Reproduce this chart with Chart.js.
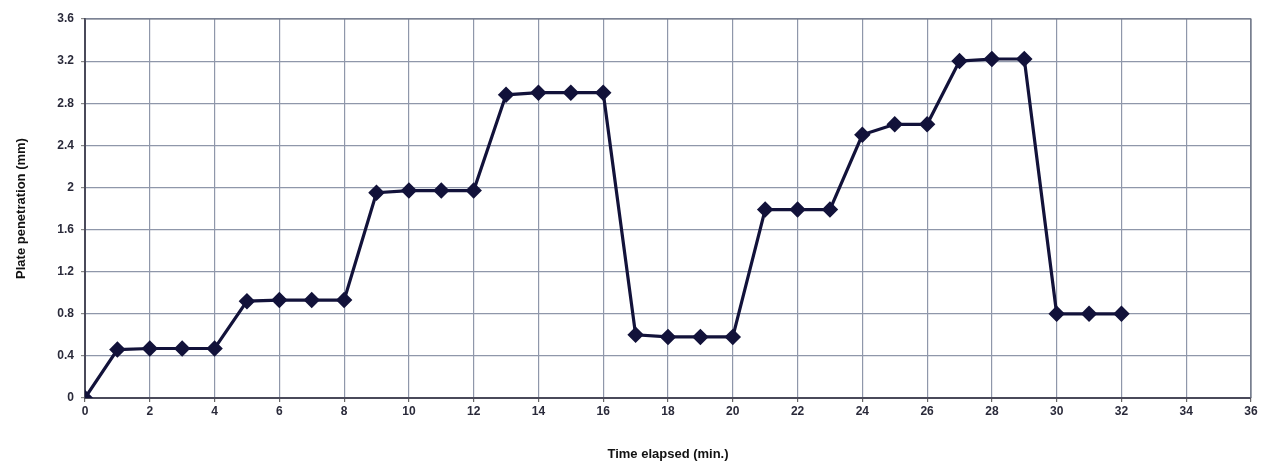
<!DOCTYPE html>
<html>
<head>
<meta charset="utf-8">
<script src="https://cdn.jsdelivr.net/npm/chart.js@4/dist/chart.umd.min.js"></script>
<style>
  html, body { margin: 0; padding: 0; background: #ffffff; }
  #wrap { width: 1268px; height: 471px; position: relative; }
</style>
</head>
<body>
<div id="wrap"><canvas id="c" width="1268" height="471"></canvas></div>
<script>
const timeMin = [0,1,2,3,4,5,6,7,8,9,10,11,12,13,14,15,16,17,18,19,20,21,22,23,24,25,26,27,28,29,30,31,32];
const penetration = [0,0.46,0.47,0.47,0.47,0.92,0.93,0.93,0.93,1.95,1.97,1.97,1.97,2.88,2.9,2.9,2.9,0.6,0.58,0.58,0.58,1.79,1.79,1.79,2.5,2.6,2.6,3.2,3.22,3.22,0.8,0.8,0.8];
const xTickLabels = ['0','2','4','6','8','10','12','14','16','18','20','22','24','26','28','30','32','34','36'];
const yTickLabels = ['0','0.4','0.8','1.2','1.6','2','2.4','2.8','3.2','3.6'];

const points = timeMin.map((t, i) => ({ x: t, y: penetration[i] }));
const tickFont = { family: 'Liberation Sans, Arial, sans-serif', size: 12, weight: 'bold' };
const titleFont = { family: 'Liberation Sans, Arial, sans-serif', size: 13, weight: 'bold' };
const gridColor = '#8f97aa';

new Chart(document.getElementById('c'), {
  type: 'line',
  data: {
    datasets: [{
      data: points,
      borderColor: '#12123a',
      backgroundColor: '#12123a',
      borderWidth: 3.2,
      pointStyle: 'rectRot',
      pointRadius: 6,
      pointHoverRadius: 6,
      pointBackgroundColor: '#12123a',
      pointBorderColor: '#12123a',
      tension: 0,
      fill: false
    }]
  },
  options: {
    responsive: false,
    animation: false,
    layout: { padding: { left: 6, top: 19, right: 17, bottom: 6 } },
    plugins: { legend: { display: false }, tooltip: { enabled: false } },
    scales: {
      x: {
        type: 'linear',
        min: 0, max: 36,
        afterFit: (s) => { s.height = 67; },
        ticks: {
          stepSize: 2,
          color: '#2a2a3a',
          font: tickFont,
          padding: 2,
          maxRotation: 0,
          callback: (v) => xTickLabels[Math.round(v / 2)]
        },
        grid: { color: gridColor, lineWidth: 1.2, tickLength: 4, tickColor: '#666' },
        border: { color: '#4a4a5a', width: 2 },
        title: { display: true, text: 'Time elapsed (min.)', color: '#111', font: titleFont, padding: { top: 4, bottom: 3 } }
      },
      y: {
        min: 0, max: 3.6,
        afterFit: (s) => { s.width = 79; },
        ticks: {
          stepSize: 0.4,
          color: '#2a2a3a',
          font: tickFont,
          padding: 7,
          callback: (v) => yTickLabels[Math.round(v / 0.4)]
        },
        grid: { color: gridColor, lineWidth: 1.2, tickLength: 4, tickColor: '#888' },
        border: { color: '#4a4a5a', width: 2 },
        title: { display: true, text: 'Plate penetration (mm)', color: '#111', font: titleFont, padding: { top: 8, bottom: 0 } }
      }
    }
  },
  plugins: [{
    id: 'frame',
    afterDraw(chart) {
      const { ctx, chartArea: a } = chart;
      ctx.save();
      ctx.strokeStyle = '#6a7080';
      ctx.lineWidth = 1.2;
      ctx.beginPath();
      ctx.moveTo(a.left, a.top); ctx.lineTo(a.right, a.top); ctx.lineTo(a.right, a.bottom);
      ctx.stroke();
      ctx.restore();
    }
  }]
});
</script>
</body>
</html>
